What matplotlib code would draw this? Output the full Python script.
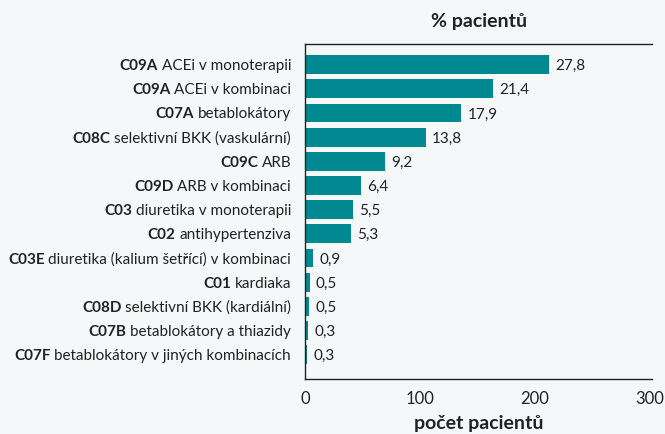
import matplotlib
matplotlib.use("Agg")
import matplotlib.pyplot as plt

plt.rcParams['font.family'] = ['Lato', 'DejaVu Sans']

# ATC codes (bold part) and descriptions
codes = ['C09A', 'C09A', 'C07A', 'C08C', 'C09C', 'C09D', 'C03',
         'C02', 'C03E', 'C01', 'C08D', 'C07B', 'C07F']
names = ['ACEi v monoterapii', 'ACEi v kombinaci', 'betablokátory',
         'selektivní BKK (vaskulární)', 'ARB', 'ARB v kombinaci',
         'diuretika v monoterapii', 'antihypertenziva',
         'diuretika (kalium šetřící) v kombinaci', 'kardiaka',
         'selektivní BKK (kardiální)', 'betablokátory a thiazidy',
         'betablokátory v jiných kombinacích']
# number of patients
counts = [212, 164, 136, 105, 70, 49, 42, 40, 7, 4, 3.5, 2.4, 1.6]
# share of patients in %
percents = [27.8, 21.4, 17.9, 13.8, 9.2, 6.4, 5.5, 5.3, 0.9, 0.5, 0.5, 0.3, 0.3]

bg = '#f5f8f8'
teal = '#008990'
dark = '#222222'

fig = plt.figure(figsize=(6.65, 4.34), dpi=100, facecolor=bg)
ax = fig.add_axes([305/665, 1-379/434, 347/665, 335/434], facecolor=bg)

ypos = list(range(len(counts)))
ax.barh(ypos, counts, height=0.78, color=teal)

ax.set_xlim(0, 302)
ax.set_ylim(13.0, -0.85)
ax.set_xticks([0, 100, 200, 300])
ax.set_yticks([])
ax.tick_params(axis='x', length=0, pad=9, labelsize=12, colors=dark)

for s in ['top', 'left', 'bottom']:
    ax.spines[s].set_color(dark)
    ax.spines[s].set_linewidth(1.0)
ax.spines['right'].set_visible(False)

# category labels: bold code + regular description
for y, code, name in zip(ypos, codes, names):
    t1 = ax.annotate(name, xy=(0, y), xycoords=('axes fraction', 'data'),
                     xytext=(-10, 0), textcoords='offset points',
                     ha='right', va='center_baseline', fontsize=11, color=dark)
    ax.annotate(code, xy=(0, y), xycoords=(t1, 'data'),
                xytext=(-2.6, 0), textcoords='offset points',
                ha='right', va='center_baseline', fontsize=11,
                fontweight='bold', color=dark)

# value labels
for y, c, p in zip(ypos, counts, percents):
    ax.annotate(f'{p:.1f}'.replace('.', ','), xy=(c, y), xytext=(4.5, 0),
                textcoords='offset points', ha='left', va='center_baseline',
                fontsize=11, color=dark)

fig.text(479/665, 1-21/434, '% pacientů', ha='center', va='center',
         fontsize=14, fontweight='bold', color=dark)
fig.text(479/665, 1-424/434, 'počet pacientů', ha='center', va='center',
         fontsize=14, fontweight='bold', color=dark)

fig.savefig('out.png', dpi=100, facecolor=bg)
